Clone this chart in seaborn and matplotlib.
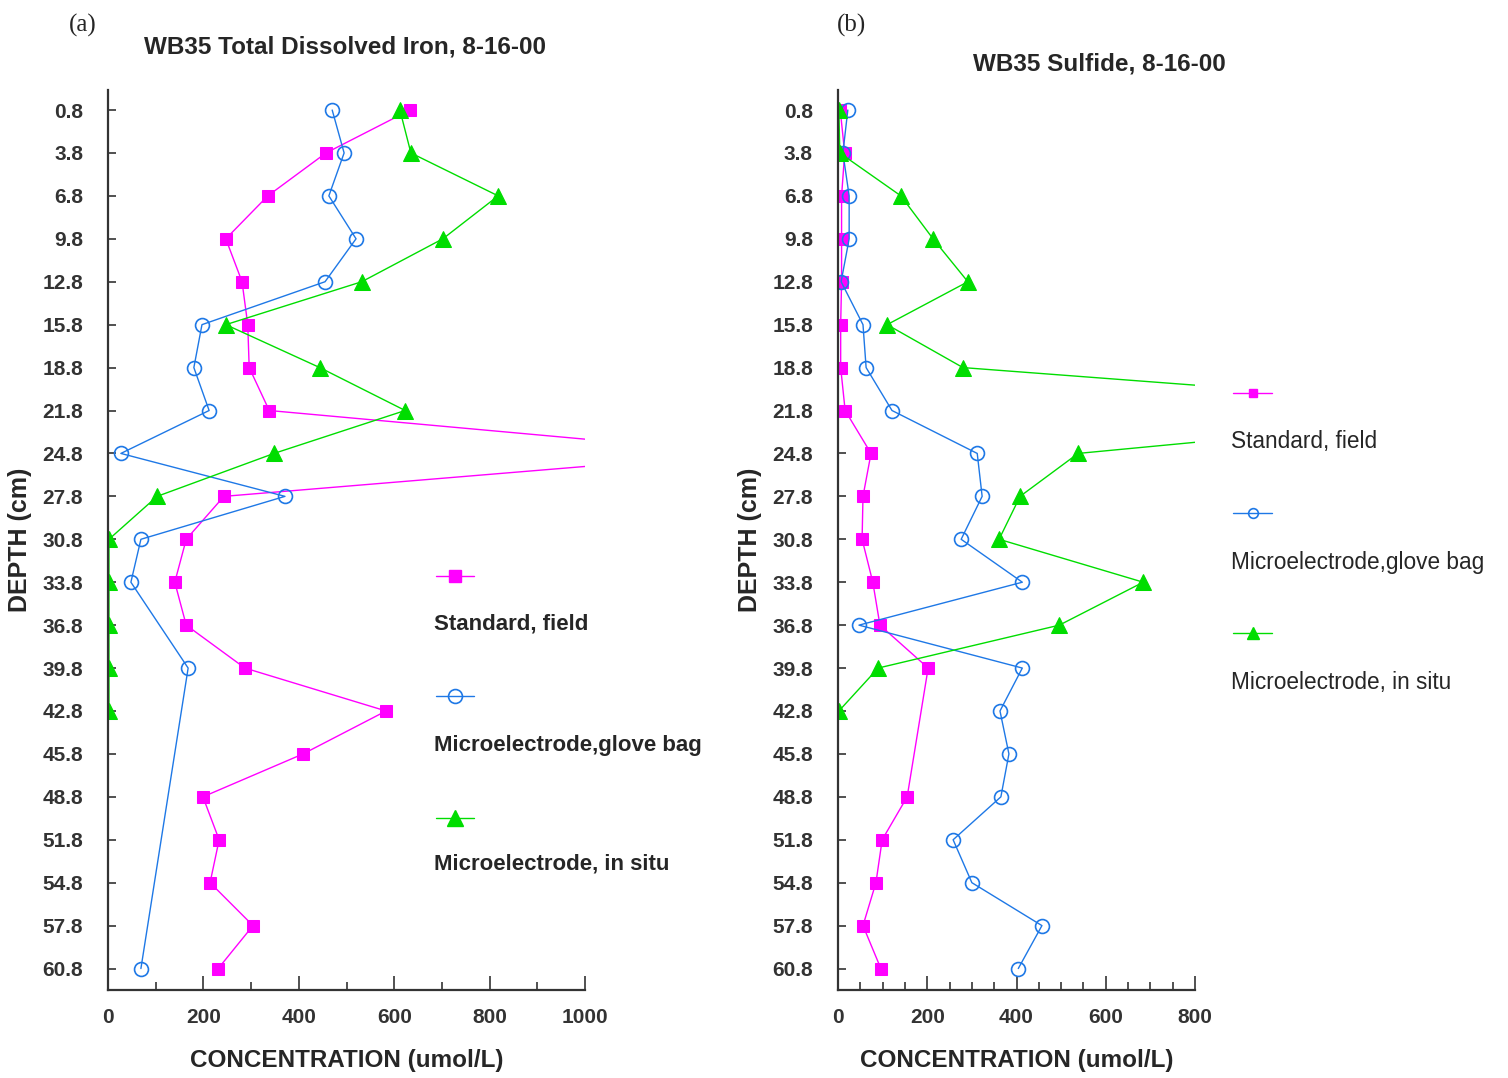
import numpy as np
import pandas as pd
import matplotlib
matplotlib.use("Agg")
import matplotlib.pyplot as plt
from matplotlib.lines import Line2D
from matplotlib.ticker import MultipleLocator
import seaborn as sns

# ---------------- data ----------------
depth = [0.8, 3.8, 6.8, 9.8, 12.8, 15.8, 18.8, 21.8, 24.8, 27.8, 30.8,
         33.8, 36.8, 39.8, 42.8, 45.8, 48.8, 51.8, 54.8, 57.8, 60.8]
nan = np.nan

# (a) total dissolved iron
iron_standard = [633, 457, 335, 247, 281, 293, 296, 338, 1330, 243, 164,
                 140, 164, 287, 583, 409, 199, 233, 214, 304, 231]
iron_glovebag = [470, 495, 463, 520, 455, 197, 180, 212, 27, 371, 69,
                 48, nan, 168, nan, nan, nan, nan, nan, nan, 69]
iron_insitu = [612, 635, 818, 702, 532, 247, 444, 623, 348, 103, 2,
               2, 2, 2, 2, nan, nan, nan, nan, nan, nan]

# (b) sulfide
sulf_standard = [5, 15, 8, 8, 8, 6, 6, 16, 74, 56, 54,
                 78, 94, 202, nan, nan, 155, 99, 85, 56, 96]
sulf_glovebag = [22, 11, 25, 25, 7, 56, 63, 121, 312, 323, 276,
                 413, 47, 413, 363, 383, 365, 258, 300, 457, 404]
sulf_insitu = [2, 4, 141, 213, 291, 110, 280, 1550, 538, 408, 361,
               684, 496, 90, 2, nan, nan, nan, nan, nan, nan]

labels = ["Standard, field", "Microelectrode,glove bag", "Microelectrode, in situ"]
colors = ["#FF00FF", "#1E78E6", "#00DD00"]

# ---------------- style ----------------
sns.set_theme(style="ticks")
plt.rcParams['font.family'] = ['Liberation Sans', 'DejaVu Sans']
plt.rcParams['axes.edgecolor'] = '#333333'
plt.rcParams['xtick.color'] = '#333333'
plt.rcParams['ytick.color'] = '#333333'

W, H = 1508, 1078
fig = plt.figure(figsize=(W / 100, H / 100), dpi=100)


# pixel -> figure fraction
def fx(px):
    return px / W


def fy(py):
    return 1 - py / H


styles = [
    dict(marker="s", markersize=8, markerfacecolor=colors[0], markeredgecolor=colors[0]),
    dict(marker="o", markersize=10, fillstyle="none", markeredgewidth=1.2,
         markeredgecolor=colors[1]),
    dict(marker="^", markersize=12, markerfacecolor=colors[2], markeredgecolor=colors[2]),
]


def draw_panel(ax, series, xmax, minor, left_px):
    for vals, lab, col, st in zip(series, labels, colors, styles):
        df = pd.DataFrame({"depth": depth, "conc": vals}).dropna()
        sns.lineplot(data=df, x="conc", y="depth", orient="y", sort=False,
                     estimator=None, color=col, linewidth=1.0, ax=ax,
                     label=lab, legend=False, **st)
    ax.set_xlim(0, xmax)
    ax.set_ylim(62.3, -0.6)
    ax.set_yticks(depth)
    ax.set_yticklabels([f"{d:.1f}" for d in depth])
    ax.xaxis.set_major_locator(MultipleLocator(200))
    ax.xaxis.set_minor_locator(MultipleLocator(minor))
    ax.tick_params(axis="y", direction="in", length=6, width=1.2, pad=18,
                   labelsize=15)
    ax.tick_params(axis="x", which="major", direction="in", length=10, width=1.2,
                   pad=13, labelsize=15)
    ax.tick_params(axis="x", which="minor", direction="in", length=6, width=1.2)
    for t in ax.get_xticklabels() + ax.get_yticklabels():
        t.set_fontweight("bold")
    sns.despine(ax=ax)
    for s in ("left", "bottom"):
        ax.spines[s].set_linewidth(1.6)
    ax.set_xlabel("CONCENTRATION (umol/L)", fontsize=17.5, fontweight="bold", labelpad=16)
    ax.set_ylabel("DEPTH (cm)", fontsize=18, fontweight="bold")
    # label's right edge sits just left of the tick labels
    ax_w = ax.get_position().width * W
    ax.yaxis.set_label_coords(-(left_px - 32) / ax_w, 0.5)


ax_a = fig.add_axes([fx(108), fy(990), fx(585) - fx(108), fy(90) - fy(990)])
draw_panel(ax_a, [iron_standard, iron_glovebag, iron_insitu], 1000, 100, 108)

ax_b = fig.add_axes([fx(838), fy(990), fx(1195) - fx(838), fy(90) - fy(990)])
draw_panel(ax_b, [sulf_standard, sulf_glovebag, sulf_insitu], 800, 50, 838 - 730)

# titles and panel letters
fig.text(fx(345), fy(47), "WB35 Total Dissolved Iron, 8-16-00", ha="center",
         va="center", fontsize=17.5, fontweight="bold")
fig.text(fx(1099), fy(64), "WB35 Sulfide, 8-16-00", ha="center",
         va="center", fontsize=17.5, fontweight="bold")
fig.text(fx(83), fy(25), "(a)", ha="center", va="center", fontsize=18,
         family="Liberation Serif")
fig.text(fx(852), fy(25), "(b)", ha="center", va="center", fontsize=18,
         family="Liberation Serif")

# hand-placed legends (key above its label, like the original)
leg_a = dict(x0=436, x1=474, keys=[576, 696, 818], texts=[624, 745, 864],
             weight="bold", size=16, scale=1.0)
leg_b = dict(x0=1233, x1=1272, keys=[393, 513, 633], texts=[441, 562, 683],
             weight="normal", size=16.3, scale=0.7)
for leg in (leg_a, leg_b):
    for lab, col, st, ky, ty in zip(labels, colors, styles, leg["keys"], leg["texts"]):
        kw = dict(st)
        kw["markersize"] = st["markersize"] * leg["scale"]
        xs = [fx(leg["x0"]), fx((leg["x0"] + leg["x1"]) / 2), fx(leg["x1"])]
        fig.add_artist(Line2D(xs, [fy(ky)] * 3, color=col, linewidth=1.0,
                              markevery=[1], transform=fig.transFigure, **kw))
        fig.text(fx(leg["x0"] - 2), fy(ty), lab, ha="left", va="center",
                 fontsize=leg["size"], fontweight=leg["weight"])

fig.savefig("out.png", dpi=100)
